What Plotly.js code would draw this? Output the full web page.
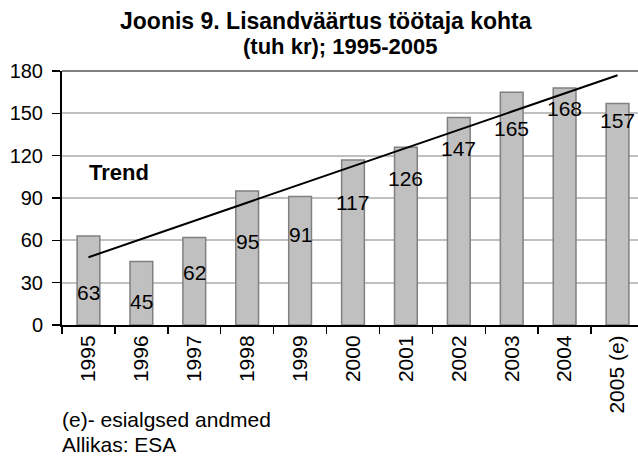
<!DOCTYPE html>
<html>
<head>
<meta charset="utf-8">
<script src="https://cdn.plot.ly/plotly-3.0.1.min.js"></script>
<style>html,body{margin:0;padding:0;background:#fff;overflow:hidden}#chart{width:638px;height:457px}</style>
</head>
<body>
<div id="chart"></div>
<script>
// Data
var years = ['1995','1996','1997','1998','1999','2000','2001','2002','2003','2004','2005 (e)'];
var values = [63, 45, 62, 95, 91, 117, 126, 147, 165, 168, 157];
var trendYears = ['1995', '2005 (e)'];
var trendValues = [48, 177];
// Label heights (where the value labels sit, in axis units)
var labelPos = [23, 17, 37.5, 59, 64, 87, 104, 125, 139, 153.5, 145];

var FONT = 'Arial, "Liberation Sans", sans-serif';

var annotations = [];
for (var i = 0; i < years.length; i++) {
  annotations.push({
    xref: 'x', yref: 'y', x: i, y: labelPos[i],
    text: String(values[i]), showarrow: false,
    font: {family: FONT, size: 21, color: '#000'},
    xanchor: 'center', yanchor: 'middle'
  });
}
annotations.push({
  xref: 'paper', yref: 'paper', x: 0.458, y: 1.197, xanchor: 'center', yanchor: 'middle',
  text: '<b>Joonis 9. Lisandväärtus töötaja kohta</b>', showarrow: false,
  font: {family: FONT, size: 23, color: '#000'}
});
annotations.push({
  xref: 'paper', yref: 'paper', x: 0.483, y: 1.098, xanchor: 'center', yanchor: 'middle',
  text: '<b>(tuh kr); 1995-2005</b>', showarrow: false,
  font: {family: FONT, size: 22, color: '#000'}
});
annotations.push({
  xref: 'x', yref: 'y', x: 0.57, y: 108.4, xanchor: 'center', yanchor: 'middle',
  text: '<b>Trend</b>', showarrow: false,
  font: {family: FONT, size: 22, color: '#000'}
});
annotations.push({
  xref: 'paper', yref: 'paper', x: -0.004, y: -0.374, xanchor: 'left', yanchor: 'middle',
  text: '(e)- esialgsed andmed', showarrow: false,
  font: {family: FONT, size: 21, color: '#000'}
});
annotations.push({
  xref: 'paper', yref: 'paper', x: -0.004, y: -0.472, xanchor: 'left', yanchor: 'middle',
  text: 'Allikas: ESA', showarrow: false,
  font: {family: FONT, size: 21, color: '#000'}
});

var traces = [
  {
    type: 'bar', x: years, y: values, width: 0.43,
    marker: {color: '#c0c0c0', line: {color: '#808080', width: 1.5}},
    hoverinfo: 'skip', showlegend: false
  },
  {
    type: 'scatter', mode: 'lines', x: trendYears, y: trendValues,
    line: {color: '#000', width: 2}, hoverinfo: 'skip', showlegend: false
  }
];

var layout = {
  width: 638, height: 457,
  margin: {l: 62, r: 0, t: 71, b: 132, pad: 0},
  paper_bgcolor: '#fff', plot_bgcolor: '#fff',
  showlegend: false,
  font: {family: FONT, color: '#000'},
  xaxis: {
    type: 'category', range: [-0.5, 10.387],
    tickson: 'boundaries', ticks: 'outside', ticklen: 7, tickwidth: 1.5, tickcolor: '#000',
    showline: true, linecolor: '#000', linewidth: 2,
    showgrid: false, tickangle: -90,
    tickfont: {family: FONT, size: 21, color: '#000'},
    fixedrange: true
  },
  yaxis: {
    range: [0, 180], dtick: 30, tick0: 0,
    ticks: 'outside', ticklen: 8, tickwidth: 1.5, tickcolor: '#000',
    showline: true, linecolor: '#000', linewidth: 2,
    showgrid: true, gridcolor: '#c0c0c0', gridwidth: 2,
    zeroline: false,
    tickfont: {family: FONT, size: 20, color: '#000'},
    ticklabelstandoff: 5,
    fixedrange: true
  },
  shapes: [
    {type: 'line', xref: 'paper', yref: 'paper', x0: 0, x1: 1, y0: 1, y1: 1,
     line: {color: '#808080', width: 2}, layer: 'below'}
  ],
  annotations: annotations
};

Plotly.newPlot('chart', traces, layout, {staticPlot: true, displayModeBar: false});
</script>
</body>
</html>
